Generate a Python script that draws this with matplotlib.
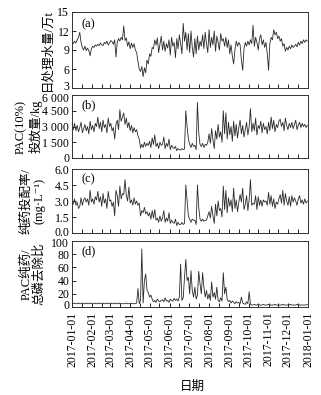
import numpy as np
import pandas as pd
import matplotlib
matplotlib.use("Agg")
import matplotlib.pyplot as plt
import matplotlib.dates as mdates
from matplotlib.ticker import FuncFormatter
from matplotlib.transforms import ScaledTranslation

plt.rcParams['font.family'] = ['Liberation Serif', 'DejaVu Serif', 'Noto Sans CJK SC']
plt.rcParams['axes.unicode_minus'] = False

# one value every 2 days, 2017-01-01 .. 2017-12-31
dates = pd.date_range("2017-01-01", periods=183, freq="2D")

# (a) daily treated water, 10^4 t
water = [
    10.2, 10.0, 10.4, 10.1, 10.6, 11.0, 11.8, 10.2, 9.4, 9.0,
    9.6, 8.9, 9.3, 8.9, 8.1, 9.2, 9.6, 9.4, 9.8, 9.6,
    9.9, 9.7, 10.1, 9.8, 9.7, 10.2, 10.0, 10.4, 9.8, 10.1,
    10.5, 10.3, 9.9, 10.6, 7.9, 10.2, 10.8, 10.4, 11.0, 10.6,
    12.8, 10.5, 10.9, 9.6, 10.3, 9.2, 10.1, 9.4, 10.0, 9.0,
    8.6, 7.2, 6.0, 5.6, 6.4, 4.8, 6.2, 5.4, 7.4, 6.8,
    8.4, 8.0, 9.4, 9.2, 10.6, 9.8, 10.9, 8.6, 9.9, 11.2,
    9.0, 10.4, 8.8, 10.0, 9.3, 10.6, 8.2, 11.0, 9.6, 10.2,
    7.8, 10.8, 9.2, 11.4, 10.0, 8.4, 13.2, 10.4, 11.8, 9.0,
    11.6, 8.6, 12.0, 9.4, 7.9, 10.8, 8.4, 11.2, 9.0, 10.4,
    9.6, 11.4, 9.2, 11.8, 10.0, 8.6, 12.2, 9.4, 11.0, 9.8,
    12.0, 8.8, 11.2, 10.2, 9.0, 11.6, 10.4, 10.8, 9.6, 11.0,
    9.4, 10.6, 8.4, 9.8, 8.0, 6.8, 9.0, 10.4, 9.6, 10.2,
    9.8, 7.4, 5.8, 9.2, 10.2, 9.6, 10.4, 9.8, 10.6, 10.0,
    12.9, 9.6, 11.0, 10.2, 9.0, 10.8, 11.4, 9.8, 10.6, 9.4,
    10.2, 8.4, 5.8, 10.0, 11.0, 10.6, 12.2, 11.4, 11.8, 10.8,
    11.2, 10.4, 10.8, 9.6, 10.0, 8.8, 9.4, 9.0, 9.6, 9.2,
    9.8, 9.4, 9.6, 9.9, 9.5, 10.2, 9.8, 10.4, 10.0, 10.6,
    10.2, 10.6, 10.4,
]

# (b) PAC (10%) dose, kg
pac = [
    3050, 2700, 3300, 2600, 3100, 2500, 2900, 3400, 2400, 2800,
    3200, 2600, 3000, 2300, 3500, 2700, 3100, 2500, 3300, 3000,
    3900, 2800, 3400, 2500, 3600, 2900, 3200, 2400, 3800, 3000,
    3300, 2600, 2900, 1800, 3200, 3600, 2700, 4600, 3500, 3900,
    4300, 3200, 3800, 2900, 3400, 2600, 3100, 2400, 2900, 2500,
    2700, 2100, 1800, 950, 1300, 1000, 1500, 1100, 1400, 1200,
    1600, 1000, 1900, 1300, 2200, 1100, 1400, 900, 1500, 1200,
    1300, 2000, 900, 1400, 1100, 1800, 800, 1200, 1000, 900,
    1100, 700, 900, 800, 750, 900, 800, 850, 4500, 3000,
    1800, 1300, 1000, 1400, 1100, 1200, 800, 5300, 2400, 1300,
    1100, 1400, 1000, 1300, 1200, 1500, 2300, 1400, 2800, 1700,
    900, 2600, 1800, 3200, 2000, 2500, 1500, 4500, 2300, 4300,
    1800, 3400, 2200, 3000, 1600, 3500, 2100, 3200, 1900, 2900,
    3600, 2300, 3100, 2000, 2700, 3400, 2200, 3000, 4700, 2500,
    3300, 2600, 3800, 2200, 3100, 2800, 3500, 2400, 3300, 2700,
    3000, 2300, 3400, 2600, 3900, 2800, 3600, 2500, 3200, 2900,
    3500, 3700, 3000, 3400, 2600, 3800, 3100, 2700, 3300, 2900,
    3400, 2800, 3200, 3600, 2700, 3100, 3400, 2900, 3300, 3000,
    3200, 2900, 3100,
]

# (c) pure agent dosing rate, mg/L
rate = [
    3.0, 2.7, 3.2, 2.6, 2.9, 2.3, 2.5, 3.3, 2.6, 3.1,
    3.3, 2.9, 3.2, 2.6, 4.0, 2.9, 3.2, 2.7, 3.4, 3.1,
    3.9, 2.9, 3.4, 2.5, 3.7, 2.8, 3.2, 2.3, 3.9, 3.0,
    3.1, 2.5, 2.9, 1.6, 4.0, 3.5, 2.5, 4.4, 3.2, 3.7,
    3.6, 5.0, 3.5, 3.0, 4.3, 2.8, 3.1, 2.6, 3.3, 2.7,
    3.0, 2.6, 2.8, 1.6, 2.1, 1.9, 2.4, 1.8, 2.0, 1.6,
    1.9, 1.3, 2.1, 1.4, 2.2, 1.2, 1.4, 1.0, 1.6, 1.1,
    1.4, 2.1, 1.0, 1.4, 1.1, 1.9, 0.9, 1.2, 1.0, 0.9,
    1.3, 0.7, 1.0, 0.8, 0.8, 1.0, 0.8, 0.9, 4.5, 3.0,
    1.6, 1.3, 1.0, 1.3, 1.2, 1.2, 0.8, 4.5, 2.4, 1.3,
    1.1, 1.3, 1.1, 1.2, 1.2, 1.6, 2.0, 1.4, 2.5, 1.6,
    0.9, 2.7, 1.6, 3.0, 2.1, 2.3, 1.5, 4.4, 2.2, 4.0,
    1.9, 3.3, 2.5, 3.1, 2.0, 4.2, 2.3, 3.1, 2.0, 2.9,
    3.6, 2.9, 4.2, 2.2, 2.7, 3.5, 2.1, 3.1, 5.0, 2.6,
    2.8, 2.7, 3.5, 2.2, 3.4, 2.6, 3.1, 2.5, 3.1, 2.9,
    3.0, 2.6, 3.8, 2.7, 3.5, 2.5, 3.2, 2.3, 2.9, 2.7,
    3.2, 3.6, 2.8, 4.0, 2.6, 3.7, 3.0, 2.6, 3.4, 2.5,
    3.5, 2.9, 3.3, 3.0, 2.6, 3.2, 3.5, 2.8, 3.1, 2.7,
    3.2, 2.8, 3.0,
]

# (d) PAC pure agent / TP removal ratio
ratio = [
    7, 5, 6, 5, 5, 6, 5, 5, 6, 5,
    5, 6, 5, 5, 6, 5, 5, 5, 6, 5,
    5, 6, 5, 5, 6, 5, 5, 6, 5, 5,
    6, 5, 5, 6, 5, 5, 6, 5, 5, 5,
    5, 5, 6, 5, 5, 5, 6, 5, 5, 5,
    6, 28, 5, 10, 88, 6, 40, 50, 25, 22,
    15, 18, 12, 8, 10, 7, 12, 9, 8, 10,
    11, 8, 14, 9, 10, 7, 12, 10, 9, 13,
    10, 12, 9, 15, 65, 10, 14, 45, 72, 40,
    45, 20, 55, 25, 15, 30, 12, 18, 54, 35,
    20, 52, 30, 15, 25, 12, 20, 10, 38, 15,
    22, 12, 30, 10, 8, 14, 9, 52, 20, 30,
    12, 8, 10, 6, 9, 7, 5, 8, 6, 7,
    5, 15, 6, 5, 4, 8, 5, 23, 4, 3,
    3, 4, 3, 3, 4, 3, 3, 3, 4, 3,
    3, 3, 4, 3, 3, 3, 3, 4, 3, 3,
    3, 3, 3, 4, 3, 3, 3, 3, 3, 4,
    3, 3, 3, 3, 4, 3, 3, 3, 3, 3,
    3, 3, 4,
]

series = [water, pac, rate, ratio]
ylabels = ["日处理水量/万t", "PAC(10%)\n投放量/kg", "纯药投配率/\n(mg·L⁻¹)", "PAC纯药/\n总磷去除比"]
panel_tags = ["(a)", "(b)", "(c)", "(d)"]
yticks = [[3, 6, 9, 12, 15], [0, 1500, 3000, 4500, 6000],
          [0, 1.5, 3.0, 4.5, 6.0], [0, 20, 40, 60, 80, 100]]
# panel top / bottom in pixels
boxes = [(12, 88), (95, 158), (169, 233), (241, 307)]
label_x = [-0.08, -0.125, -0.112, -0.112]
# pixel nudges for the (top, bottom) y tick labels so neighbouring panels don't collide
nudges = [(0, 2), (-2, 1), (0, 1.5), (-1.5, 2.5)]

W, H = 321, 395
fig = plt.figure(figsize=(W / 100, H / 100), dpi=100)

x0, x1 = 72, 308
axes = []
for k in range(4):
    top, bot = boxes[k]
    ax = fig.add_axes([x0 / W, 1 - bot / H, (x1 - x0) / W, (bot - top) / H])
    ax.plot(dates, series[k], color='#2a2a2a', lw=0.6)
    ax.set_xlim(pd.Timestamp("2017-01-01"), pd.Timestamp("2018-01-01"))
    ax.set_ylim(yticks[k][0], yticks[k][-1])
    ax.set_yticks(yticks[k])
    if k == 1:
        ax.yaxis.set_major_formatter(FuncFormatter(lambda v, p: f"{int(v):,}".replace(",", " ")))
    elif k == 2:
        ax.yaxis.set_major_formatter(FuncFormatter(lambda v, p: f"{v:.1f}"))
    ax.xaxis.set_major_locator(mdates.MonthLocator(bymonthday=1))
    ax.xaxis.set_minor_locator(mdates.MonthLocator(bymonthday=16))
    ax.xaxis.set_major_formatter(mdates.DateFormatter("%Y-%m-%d"))
    ax.tick_params(axis='both', which='both', direction='in', labelsize=8.5,
                   width=0.6, length=3, labelfontfamily='Liberation Serif')
    ax.tick_params(axis='x', which='both', top=False)
    ax.tick_params(axis='y', right=False, pad=2)
    if k < 3:
        ax.tick_params(axis='x', labelbottom=False)
    else:
        for lbl in ax.get_xticklabels():
            lbl.set_rotation(90)
    for sp in ax.spines.values():
        sp.set_linewidth(0.7)
        sp.set_color('#333333')
    ax.set_ylabel(ylabels[k], fontsize=9, linespacing=1.1)
    ax.yaxis.set_label_coords(label_x[k], 0.5)
    ax.text(0.04, 0.84, panel_tags[k], transform=ax.transAxes, fontsize=9, va='center')
    axes.append(ax)

for ax, (dtop, dbot) in zip(axes, nudges):
    labels = ax.get_yticklabels()
    labels[-1].set_transform(labels[-1].get_transform() + ScaledTranslation(0, dtop / 100, fig.dpi_scale_trans))
    labels[0].set_transform(labels[0].get_transform() + ScaledTranslation(0, dbot / 100, fig.dpi_scale_trans))

fig.text(192 / W, 1 - 387 / H, "日期", ha='center', va='center', fontsize=9)

fig.savefig("out.png", dpi=100)
